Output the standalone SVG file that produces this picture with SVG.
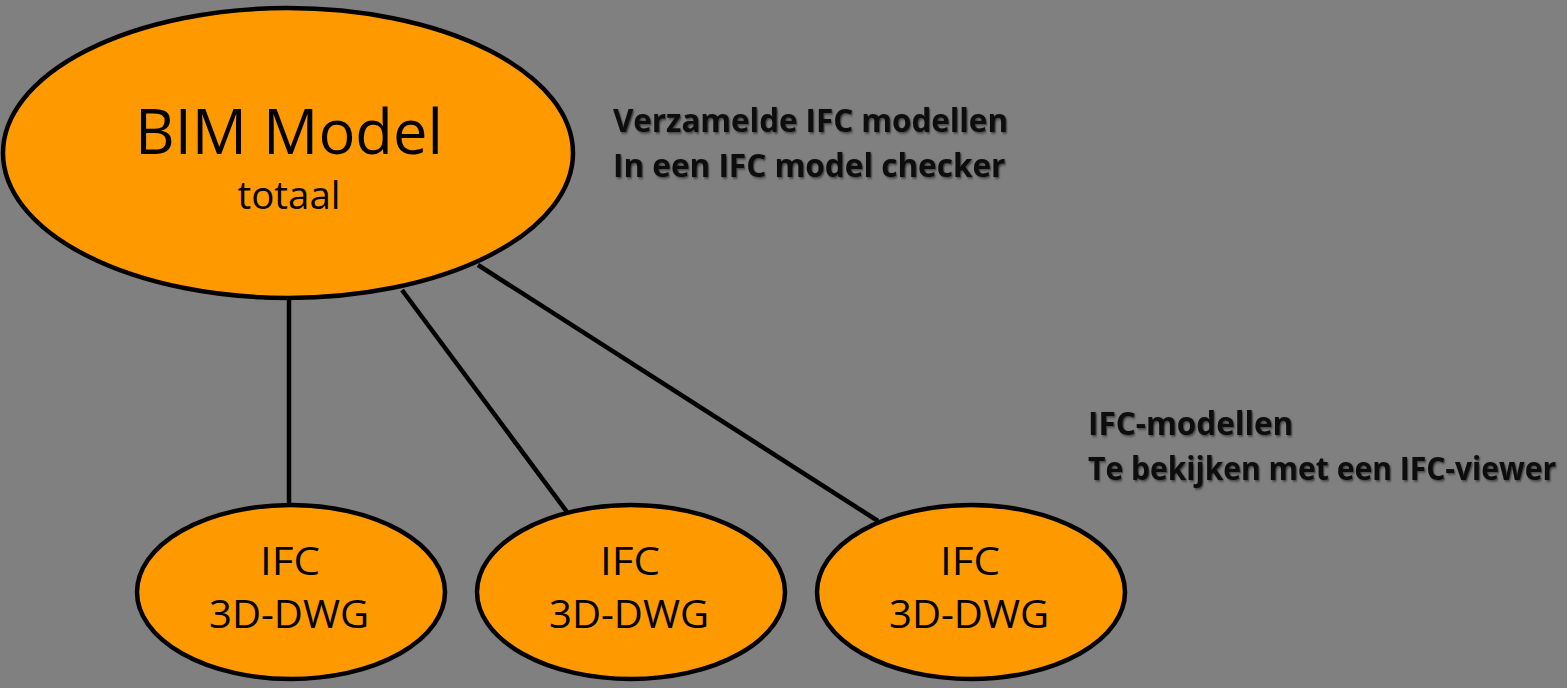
<svg xmlns="http://www.w3.org/2000/svg" width="1567" height="688" viewBox="0 0 1567 688">
<defs>
<style>
.node{fill:#FF9900;stroke:#000;stroke-width:4.5}
.lbl{font-family:"Open Sans","Noto Sans","Liberation Sans",sans-serif;fill:#000;text-anchor:middle}
.note{font-family:"Open Sans","Noto Sans","Liberation Sans",sans-serif;font-weight:bold;font-size:33px;fill:#0a0a0a;filter:url(#sh)}
.conn{stroke:#000;stroke-width:4.5;fill:none}
</style>
<filter id="sh" x="-1%" y="-10%" width="101.5%" height="125%">
<feDropShadow dx="1.5" dy="1.5" stdDeviation="0.8" flood-color="#333" flood-opacity="0.8"/>
</filter>
</defs>
<rect width="1567" height="688" fill="#808080"/>
<g id="connectors">
<line class="conn" x1="289" y1="298" x2="289" y2="505"/>
<line class="conn" x1="402" y1="290" x2="567" y2="512"/>
<line class="conn" x1="478" y1="265" x2="878" y2="521"/>
</g>
<g id="bim">
<ellipse class="node" cx="288" cy="153" rx="285" ry="145"/>
<text class="lbl" x="289" y="154" font-size="63" textLength="308" lengthAdjust="spacingAndGlyphs">BIM Model</text>
<text class="lbl" x="289" y="209" font-size="38" textLength="103" lengthAdjust="spacingAndGlyphs">totaal</text>
</g>
<g id="ifc1">
<ellipse class="node" cx="291" cy="592" rx="154" ry="87"/>
<text class="lbl" x="290" y="575" font-size="39" textLength="60" lengthAdjust="spacingAndGlyphs">IFC</text>
<text class="lbl" x="289" y="628" font-size="39" textLength="160" lengthAdjust="spacingAndGlyphs">3D-DWG</text>
</g>
<g id="ifc2">
<ellipse class="node" cx="631" cy="592" rx="154" ry="87"/>
<text class="lbl" x="630" y="575" font-size="39" textLength="60" lengthAdjust="spacingAndGlyphs">IFC</text>
<text class="lbl" x="629" y="628" font-size="39" textLength="160" lengthAdjust="spacingAndGlyphs">3D-DWG</text>
</g>
<g id="ifc3">
<ellipse class="node" cx="971" cy="592" rx="154" ry="87"/>
<text class="lbl" x="970" y="575" font-size="39" textLength="60" lengthAdjust="spacingAndGlyphs">IFC</text>
<text class="lbl" x="969" y="628" font-size="39" textLength="160" lengthAdjust="spacingAndGlyphs">3D-DWG</text>
</g>
<g id="note1" transform="translate(613 0) scale(0.87 1)">
<text class="note" x="0" y="132" textLength="454" lengthAdjust="spacingAndGlyphs">Verzamelde IFC modellen</text>
<text class="note" x="0" y="177" textLength="451" lengthAdjust="spacingAndGlyphs">In een IFC model checker</text>
</g>
<g id="note2" transform="translate(1088 0) scale(0.87 1)">
<text class="note" x="0" y="435" textLength="236" lengthAdjust="spacingAndGlyphs">IFC-modellen</text>
<text class="note" x="0" y="480" textLength="538" lengthAdjust="spacingAndGlyphs">Te bekijken met een IFC-viewer</text>
</g>
</svg>
